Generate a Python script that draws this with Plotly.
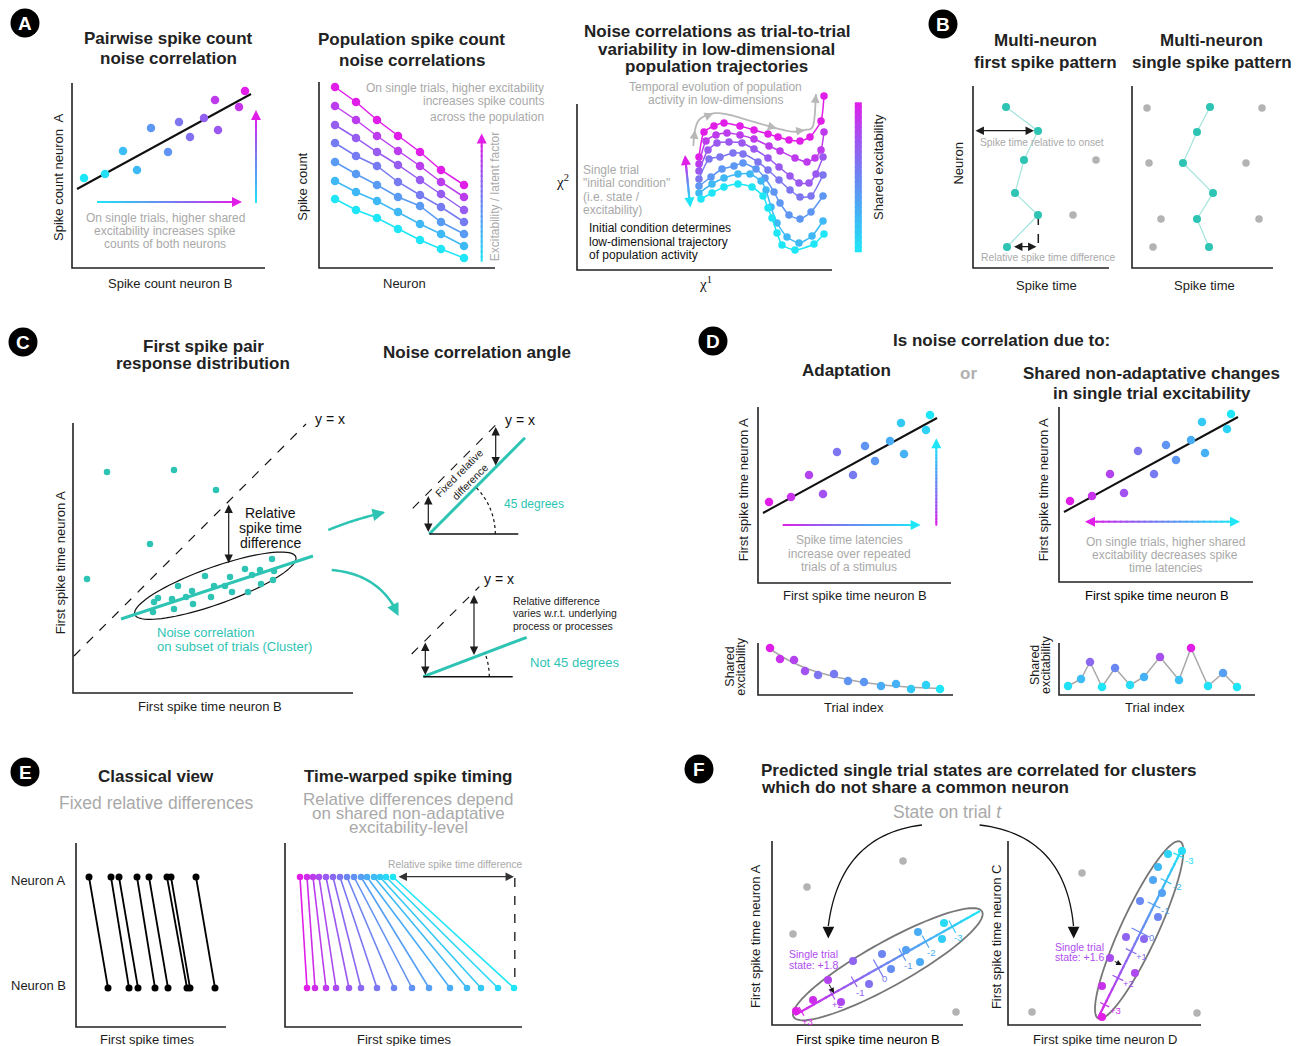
import math
import plotly.graph_objects as go

W, H = 1308, 1046
FONT = "Liberation Sans, Arial, Helvetica, sans-serif"
SERIF = "Liberation Serif, Times New Roman, serif"
INK = "#1c1c1c"
NOTE = "#a9a9a9"
TEAL = "#2ec4b4"
TEAL_LIGHT = "#a3e4dd"
GRAY_DOT = "#b3b3b3"
PURPLE_NOTE = "#b04cf0"
EXC_SCALE = [[0.0, "#1ee6f6"], [0.25, "#44b3f5"], [0.5, "#6d85f1"], [0.75, "#a152f0"], [1.0, "#e11de8"]]

# ---------------- A: pairwise spike count noise correlation ----------------
pair_count_b = [1.2, 3.3, 5.1, 6.5, 7.9, 9.6, 10.7, 11.8, 13.2, 14.6, 14.3, 16.7, 17.3]
pair_count_a = [9.0, 9.4, 11.7, 9.8, 14.0, 11.6, 14.6, 13.1, 15.0, 13.8, 16.8, 16.1, 17.7]
pair_excitability = [0.0, 0.04, 0.2, 0.22, 0.4, 0.42, 0.58, 0.6, 0.68, 0.72, 0.86, 0.9, 1.0]
pair_fit_b = [0.5, 17.9]
pair_fit_a = [7.9, 17.4]

# ---------------- A: population spike counts (rows: high -> low excitability) ----------------
pop_neuron = [1.6, 3.7, 5.8, 7.9, 10.1, 12.2, 14.5]
pop_levels = [1.0, 0.85, 0.7, 0.55, 0.38, 0.22, 0.0]
pop_counts = [
    [18.1, 16.6, 14.8, 13.2, 11.6, 9.8, 8.3],
    [16.2, 14.8, 13.2, 11.7, 10.2, 8.6, 7.1],
    [14.3, 13.0, 11.6, 10.3, 8.8, 7.4, 5.8],
    [12.5, 11.2, 10.2, 8.6, 7.3, 6.1, 4.6],
    [10.6, 9.4, 8.3, 7.1, 6.2, 4.6, 3.4],
    [8.7, 7.6, 6.7, 5.6, 4.4, 3.4, 2.2],
    [6.9, 5.8, 5.0, 3.9, 2.8, 1.9, 1.0],
]

# ---------------- A: low-dimensional population trajectories ----------------
traj_levels = [1.0, 0.86, 0.72, 0.58, 0.4, 0.22, 0.0]
traj_chi1 = [
    [12.2, 12.7, 13.7, 14.7, 16.3, 17.7, 19.1, 20.1, 21.2, 22.3, 23.3, 24.4, 24.7],
    [12.2, 12.9, 13.9, 15.0, 16.3, 17.7, 19.2, 20.3, 21.8, 23.0, 23.8, 24.4, 24.7],
    [12.2, 13.1, 14.0, 15.2, 16.5, 17.7, 19.1, 20.2, 21.3, 22.2, 23.2, 23.9, 24.6],
    [12.2, 13.2, 14.3, 15.6, 16.6, 18.1, 19.1, 20.2, 21.3, 22.3, 23.4, 24.6],
    [12.2, 13.4, 14.5, 15.7, 16.6, 17.9, 18.8, 19.7, 20.3, 21.2, 22.3, 23.4, 24.6],
    [12.2, 13.5, 14.7, 16.1, 17.3, 18.4, 18.9, 19.4, 20.0, 21.0, 22.2, 23.5, 24.6],
    [12.4, 13.5, 14.7, 16.1, 17.5, 18.6, 19.1, 19.5, 20.0, 20.5, 21.8, 23.7, 24.7],
]
traj_chi2 = [
    [11.3, 13.8, 14.4, 14.7, 14.4, 14.0, 13.6, 13.3, 13.0, 12.9, 13.3, 14.9, 17.4],
    [10.6, 12.9, 13.5, 13.7, 13.5, 13.1, 12.4, 11.9, 11.2, 10.8, 11.2, 12.0, 13.8],
    [9.9, 12.0, 12.7, 12.8, 12.7, 12.1, 11.2, 10.3, 9.4, 8.7, 8.7, 9.6, 11.3],
    [9.1, 11.1, 11.3, 11.7, 11.6, 10.8, 10.0, 9.0, 8.0, 7.3, 7.4, 9.5],
    [8.4, 9.3, 10.1, 10.4, 10.7, 10.1, 9.2, 7.8, 6.7, 5.5, 5.1, 5.8, 7.4],
    [7.7, 8.6, 9.2, 9.6, 9.6, 8.9, 8.0, 6.3, 4.7, 3.3, 2.7, 3.4, 4.9],
    [7.1, 7.7, 8.3, 8.6, 8.3, 7.4, 6.2, 5.2, 3.7, 2.5, 2.0, 2.6, 3.6],
]

# ---------------- B: multi-neuron spike patterns ----------------
first_spike_time = [3.3, 6.5, 5.1, 4.2, 6.5, 3.4]
first_spike_neuron = [16.1, 13.7, 10.8, 7.5, 5.3, 2.1]
first_later_time = [12.3, 10.0]
first_later_neuron = [10.8, 5.3]
single_spike_time = [7.8, 6.5, 5.1, 8.1, 6.5, 7.7]
single_spike_neuron = [16.1, 13.6, 10.5, 7.5, 4.9, 2.1]
single_other_time = [1.5, 13.0, 1.7, 11.4, 2.9, 12.7, 2.1]
single_other_neuron = [16.0, 16.0, 10.5, 10.5, 4.9, 4.9, 2.1]

# ---------------- C: first spike pair response distribution ----------------
cluster_b = [8.1, 8.5, 8.0, 9.9, 10.1, 10.5, 11.3, 11.9, 12.0, 13.2, 13.8, 14.1, 15.2, 15.7, 15.9,
             17.2, 17.5, 17.9, 18.7, 18.8, 19.9, 20.1, 20.0]
cluster_a = [9.1, 9.5, 8.1, 9.4, 8.4, 10.7, 9.6, 10.2, 8.9, 11.7, 9.6, 10.7, 10.7, 11.6, 10.1,
             12.4, 10.1, 11.8, 12.3, 10.9, 13.4, 12.2, 11.3]
outlier_b = [3.4, 10.1, 14.3, 7.7, 1.4]
outlier_a = [22.1, 22.3, 20.3, 14.9, 11.4]
cluster_fit_b = [4.8, 24.0]
cluster_fit_a = [7.4, 13.7]
identity_b = [0.1, 23.3]
identity_a = [3.7, 26.9]

# ---------------- D: adaptation vs shared excitability ----------------
latency_b = [1.1, 3.3, 5.1, 6.5, 7.9, 9.5, 10.7, 11.7, 13.2, 14.6, 14.3, 16.8, 17.2]
latency_a = [8.1, 8.6, 10.8, 8.9, 13.1, 10.8, 13.7, 12.2, 14.2, 12.9, 16.0, 15.3, 16.8]
latency_state = [1.0, 0.9, 0.82, 0.75, 0.58, 0.55, 0.42, 0.4, 0.28, 0.26, 0.14, 0.1, 0.0]
latency_fit_b = [0.5, 17.9]
latency_fit_a = [7.0, 16.5]
adapt_trial = [1.2, 2.2, 3.6, 4.7, 6.0, 7.6, 9.0, 10.6, 12.3, 13.8, 15.3, 16.8, 18.2]
adapt_excitability = [4.7, 3.6, 3.5, 2.4, 2.0, 2.1, 1.4, 1.3, 0.9, 1.1, 0.6, 1.0, 0.6]
adapt_trend_trial = [1.2, 3.0, 5.0, 7.0, 9.0, 11.0, 13.0, 15.0, 17.0, 18.5]
adapt_trend_excitability = [4.6, 3.5, 2.6, 2.0, 1.55, 1.2, 0.95, 0.8, 0.7, 0.65]
shared_trial = [0.9, 2.2, 3.1, 4.3, 5.6, 7.1, 8.5, 10.1, 12.0, 13.2, 14.9, 16.4, 17.8]
shared_excitability = [0.9, 1.6, 3.3, 0.8, 2.7, 1.0, 1.8, 3.8, 1.5, 4.7, 0.9, 2.2, 0.8]

# ---------------- E: spike timing views ----------------
classic_time_a = [1.3, 3.5, 4.3, 6.1, 7.3, 9.1, 9.5, 12.0]
classic_time_b = [3.2, 5.3, 6.2, 7.9, 9.2, 11.1, 11.4, 13.9]
warped_time_a = [1.5, 2.2, 2.8, 3.4, 4.1, 4.8, 5.5, 6.2, 6.9, 7.6, 8.2, 8.9, 9.5, 10.1, 10.8]
warped_time_b = [2.2, 3.0, 4.1, 5.1, 6.4, 7.6, 9.2, 10.9, 12.7, 14.4, 16.5, 18.2, 19.6, 21.3, 22.9]
row_neuron_a = 15.0
row_neuron_b = 3.9

# ---------------- F: predicted single trial states ----------------
fab_b = [2.4, 4.1, 6.9, 5.6, 8.1, 9.7, 11.0, 11.9, 13.4, 14.8, 14.6, 17.0, 17.2]
fab_a = [1.4, 2.5, 2.3, 4.5, 6.4, 4.1, 7.1, 5.6, 7.5, 6.3, 9.3, 8.6, 10.2]
fab_state = [1.0, 0.92, 0.8, 0.82, 0.66, 0.6, 0.5, 0.45, 0.35, 0.3, 0.28, 0.12, 0.06]
fab_other_b = [3.5, 13.1, 2.1, 18.4]
fab_other_a = [13.8, 16.4, 9.1, 1.3]
fab_fit_b = [2.3, 20.8]
fab_fit_a = [1.0, 11.4]
fab_tick_labels = ["+3", "+2", "-1", "0", "-1", "-2", "-3"]
fcd_d = [9.4, 9.4, 12.7, 10.2, 11.8, 13.6, 15.0, 13.2, 15.4, 14.5, 15.0, 16.0, 17.4]
fcd_c = [0.8, 3.9, 5.2, 6.7, 8.8, 8.6, 10.8, 12.4, 13.2, 14.5, 15.8, 17.1, 17.4]
fcd_state = [1.0, 0.9, 0.8, 0.78, 0.66, 0.64, 0.5, 0.48, 0.34, 0.32, 0.22, 0.1, 0.05]
fcd_other_d = [7.4, 2.4, 18.9]
fcd_other_c = [15.2, 1.3, 1.2]
fcd_fit_d = [9.0, 17.5]
fcd_fit_c = [0.7, 17.8]
fcd_tick_labels = ["+3", "+2", "+1", "0", "-1", "-2", "-3"]

# =====================================================================
fig = go.Figure()
shapes, annots = [], []
n_axes = [0]


def _rgb(h):
    return tuple(int(h[i:i + 2], 16) for i in (1, 3, 5))


def mix(t):
    t = min(max(t, 0.0), 1.0)
    for (t0, c0), (t1, c1) in zip(EXC_SCALE[:-1], EXC_SCALE[1:]):
        if t <= t1:
            f = (t - t0) / (t1 - t0)
            a, b = _rgb(c0), _rgb(c1)
            return "rgb(%d,%d,%d)" % tuple(round(a[k] + (b[k] - a[k]) * f) for k in range(3))
    return EXC_SCALE[-1][1]


def text(x, y, s, size=13, color=INK, bold=False, anchor="center", angle=0, family=FONT):
    annots.append(dict(x=x / W, y=1 - y / H, xref="paper", yref="paper",
                       text=f"<b>{s}</b>" if bold else s, showarrow=False,
                       xanchor=anchor, yanchor="middle", textangle=angle,
                       font=dict(family=family, size=size, color=color)))


def seg(x0, y0, x1, y1, color=INK, width=1.5, dash="solid"):
    shapes.append(dict(type="line", xref="paper", yref="paper",
                       x0=x0 / W, y0=1 - y0 / H, x1=x1 / W, y1=1 - y1 / H,
                       line=dict(color=color, width=width, dash=dash), layer="below"))


def poly(pts, color=INK, width=1.5, dash="solid", closed=False):
    d = "M " + " L ".join(f"{x / W:.5f},{1 - y / H:.5f}" for x, y in pts)
    if closed:
        d += " Z"
    shapes.append(dict(type="path", xref="paper", yref="paper", path=d,
                       line=dict(color=color, width=width, dash=dash), layer="below"))


def arrow(x0, y0, x1, y1, color=INK, width=1.2, size=1.4, both=False):
    annots.append(dict(x=x1 / W, y=1 - y1 / H, xref="paper", yref="paper",
                       ax=x0 - x1, ay=y0 - y1, axref="pixel", ayref="pixel", text="",
                       showarrow=True, arrowhead=2, startarrowhead=2,
                       arrowsize=size, startarrowsize=size, arrowwidth=width,
                       arrowcolor=color, arrowside="end+start" if both else "end"))


def tip(x, y, fx, fy, color, width=2, size=1.0, back=7):
    d = math.hypot(fx - x, fy - y)
    arrow(x + (fx - x) * back / d, y + (fy - y) * back / d, x, y, color=color, width=width, size=size)


def grad(x0, y0, x1, y1, t0, t1, width=2, n=24):
    # short overlapping pieces so that no seams show between colour steps
    L = math.hypot(x1 - x0, y1 - y0)
    ext = 0.8 / L
    for i in range(n):
        a, b = i / n, (i + 1) / n
        a2, b2 = max(a - ext, 0), min(b + ext, 1)
        seg(x0 + (x1 - x0) * a2, y0 + (y1 - y0) * a2, x0 + (x1 - x0) * b2, y0 + (y1 - y0) * b2,
            color=mix(t0 + (t1 - t0) * (a + b) / 2), width=width)


def qcurve(p0, c, p1, n=30):
    return [((1 - t) ** 2 * p0[0] + 2 * (1 - t) * t * c[0] + t * t * p1[0],
             (1 - t) ** 2 * p0[1] + 2 * (1 - t) * t * c[1] + t * t * p1[1])
            for t in [i / n for i in range(n + 1)]]


def catmull(pts, k=10):
    P = [pts[0]] + list(pts) + [pts[-1]]
    out = []
    for i in range(1, len(P) - 2):
        p0, p1, p2, p3 = P[i - 1], P[i], P[i + 1], P[i + 2]
        for j in range(k):
            t = j / k
            out.append(tuple(0.5 * (2 * p1[m] + (-p0[m] + p2[m]) * t
                                    + (2 * p0[m] - 5 * p1[m] + 4 * p2[m] - p3[m]) * t * t
                                    + (-p0[m] + 3 * p1[m] - 3 * p2[m] + p3[m]) * t ** 3) for m in (0, 1)))
    out.append(pts[-1])
    return out


def ellipse(cx, cy, a, b, ang, n=90):
    ph = math.radians(ang)
    pts = []
    for i in range(n):
        t = 2 * math.pi * i / n
        pts.append((cx + a * math.cos(t) * math.cos(ph) - b * math.sin(t) * math.sin(ph),
                    cy - (a * math.cos(t) * math.sin(ph) + b * math.sin(t) * math.cos(ph))))
    return pts


def badge(cx, cy, letter):
    shapes.append(dict(type="circle", xref="paper", yref="paper",
                       x0=(cx - 14.5) / W, x1=(cx + 14.5) / W, y0=1 - (cy + 14.5) / H, y1=1 - (cy - 14.5) / H,
                       fillcolor="#000000", line=dict(width=0), layer="above"))
    text(cx, cy + 0.5, letter, size=19, color="#ffffff", bold=True)


def axes(ox, oy, top, right, pad=30):
    """Subplot whose data unit is 10 px; (ox, oy) is the origin, drawn as an L-shaped frame."""
    n_axes[0] += 1
    k = n_axes[0]
    sfx = "" if k == 1 else str(k)
    L, R = max(ox - pad, 0), min(right + pad, W)
    T, B = max(top - pad, 0), min(oy + pad, H)
    fig.update_layout({
        "xaxis" + sfx: dict(domain=[L / W, R / W], range=[(L - ox) / 10, (R - ox) / 10],
                            visible=False, anchor="y" + sfx, fixedrange=True),
        "yaxis" + sfx: dict(domain=[1 - B / H, 1 - T / H], range=[(oy - B) / 10, (oy - T) / 10],
                            visible=False, anchor="x" + sfx, fixedrange=True),
    })
    poly([(ox, top), (ox, oy), (right, oy)], color="#222222", width=1.6)
    return ("x" + sfx, "y" + sfx, ox, oy)


def scatter(ax, x, y, mode="markers", **kw):
    fig.add_trace(go.Scatter(x=x, y=y, xaxis=ax[0], yaxis=ax[1], mode=mode, hoverinfo="skip",
                             showlegend=False, cliponaxis=False, **kw))


def grad_data(ax, xs, ys, t0, t1, width=2.2, n=30):
    for i in range(n):
        a, b = i / n, (i + 1) / n
        a2, b2 = max(a - 0.004, 0), min(b + 0.004, 1)
        shapes.append(dict(type="line", xref=ax[0], yref=ax[1],
                           x0=xs[0] + (xs[1] - xs[0]) * a2, y0=ys[0] + (ys[1] - ys[0]) * a2,
                           x1=xs[0] + (xs[1] - xs[0]) * b2, y1=ys[0] + (ys[1] - ys[0]) * b2,
                           line=dict(color=mix(t0 + (t1 - t0) * (a + b) / 2), width=width), layer="below"))


def to_px(ax, x, y):
    return ax[2] + 10 * x, ax[3] - 10 * y


def exc_marker(vals, size=8, cmin=0, cmax=1):
    return dict(size=size, color=vals, colorscale=EXC_SCALE, cmin=cmin, cmax=cmax, line=dict(width=0))


# ======================= Panel A =======================
badge(25, 23, "A")

# pairwise spike count
ax = axes(72, 268, 83, 265)
scatter(ax, pair_fit_b, pair_fit_a, mode="lines", line=dict(color="#111111", width=2))
scatter(ax, pair_count_b, pair_count_a, marker=exc_marker(pair_excitability, 8.5))
text(168, 38, "Pairwise spike count", 17, "#222", bold=True)
text(168, 59, "noise correlation", 17, "#222", bold=True)
grad(97, 202, 236, 202, 0, 1, width=2)
tip(242, 202, 97, 202, mix(1))
grad(256, 203, 256, 117, 0, 1, width=2)
tip(256, 110, 256, 203, mix(1))
for yy, s in zip([218, 231, 244], ["On single trials, higher shared", "excitability increases spike",
                                   "counts of both neurons"]):
    text(165, yy, s, 12, NOTE)
text(58, 177, "Spike count neuron  A", 13, angle=-90)
text(170, 283, "Spike count neuron B", 13)

# population spike count
ax = axes(319, 268, 82, 495)
for lvl, row in zip(pop_levels, pop_counts):
    scatter(ax, pop_neuron, row, mode="lines+markers", line=dict(color=mix(lvl), width=1.5),
            marker=dict(size=8.5, color=mix(lvl)))
text(411.7, 40, "Population spike count", 17, "#222", bold=True)
text(411.7, 60, "noise correlations", 17, "#222", bold=True)
for yy, s in zip([88, 101, 117], ["On single trials, higher excitability", "increases spike counts",
                                  "across the population"]):
    text(546, yy, s, 12, NOTE, anchor="right")
grad(481.7, 261.7, 481.7, 141, 0, 1, width=2)
tip(481.7, 133.5, 481.7, 261.7, mix(1))
text(494.5, 196.7, "Excitability / latent factor", 12, NOTE, angle=-90)
text(303, 186.7, "Spike count", 13, angle=-90)
text(405, 283.3, "Neuron", 13)

# population trajectories
ax = axes(577, 270, 104, 832, pad=32)
for lvl, xs, ys in zip(traj_levels, traj_chi1, traj_chi2):
    scatter(ax, xs, ys, mode="lines+markers", line=dict(color=mix(lvl), width=1.5, shape="spline", smoothing=0.6),
            marker=dict(size=7.5, color=mix(lvl)))
for yy, s in zip([31.7, 49, 66.7], ["Noise correlations as trial-to-trial", "variability in low-dimensional",
                                    "population trajectories"]):
    text(716.7, yy, s, 17, "#222", bold=True)
text(715, 86.7, "Temporal evolution of population", 12, NOTE)
text(715, 100, "activity in low-dimensions", 12, NOTE)
# gray direction-of-time guide with arrowheads
guide = [(693.3, 146), (695, 130), (700, 119), (713.3, 113.3), (730, 115), (753.3, 121.7), (776.7, 128.3),
         (793.3, 131.7), (805, 130), (813.3, 125), (816, 94)]
poly(catmull(guide), color="#b8b8b8", width=1.8)
for i in (1, 3, 6, 8, 10):
    tip(guide[i][0], guide[i][1], guide[i - 1][0], guide[i - 1][1], "#b8b8b8", width=1.6, size=1.1)
grad(689.6, 201, 685.6, 161, 0, 1, width=2)
tip(685, 155, 690, 207, mix(1))
tip(690.4, 207.5, 685, 155, mix(0))
for yy, s in zip([170, 183.3, 196.7, 209.5], ["Single trial", '"initial condition"', "(i.e. state /",
                                              "excitability)"]):
    text(580.7, yy, s, 12, NOTE, anchor="left")
for yy, s in zip([228.3, 241.7, 255], ["Initial condition determines", "low-dimensional trajectory",
                                      "of population activity"]):
    text(587.3, yy, s, 12, "#111", anchor="left")
text(562.7, 181, "χ<sup>2</sup>", 15, "#111", family=SERIF)
text(705, 283.3, "χ<sup>1</sup>", 15, "#111", family=SERIF)
grad(858.3, 102.3, 858.3, 252.3, 1, 0, width=7, n=30)
text(878.3, 166.7, "Shared excitability", 13, angle=-90)

# ======================= Panel B =======================
badge(943, 24, "B")
ax = axes(973, 268, 86, 1109)
scatter(ax, first_spike_time, first_spike_neuron, mode="lines", line=dict(color=TEAL_LIGHT, width=1.2))
scatter(ax, first_later_time, first_later_neuron, marker=dict(size=7.5, color=GRAY_DOT))
scatter(ax, first_spike_time, first_spike_neuron, marker=dict(size=8, color=TEAL))
arrow(974, 130.7, 1034, 130.7, color=INK, width=1.3, size=1.3, both=True)
seg(1038.3, 216, 1038.3, 246.7, color=INK, width=1.5, dash="dash")
arrow(1012.5, 246.7, 1036.5, 246.7, color=INK, width=1.3, size=1.3, both=True)
text(978, 142.7, "Spike time relative to onset", 10.3, NOTE, anchor="left")
text(979, 257.5, "Relative spike time difference", 10.3, NOTE, anchor="left")
text(1045.7, 41, "Multi-neuron", 17, "#222", bold=True)
text(1045.7, 62.3, "first spike pattern", 17, "#222", bold=True)
text(958.3, 163.3, "Neuron", 13, angle=-90)
text(1046.7, 285, "Spike time", 13)

ax = axes(1132, 268, 86, 1273)
scatter(ax, single_spike_time, single_spike_neuron, mode="lines", line=dict(color=TEAL_LIGHT, width=1.2))
scatter(ax, single_other_time, single_other_neuron, marker=dict(size=7.5, color=GRAY_DOT))
scatter(ax, single_spike_time, single_spike_neuron, marker=dict(size=8, color=TEAL))
text(1211.7, 41, "Multi-neuron", 17, "#222", bold=True)
text(1211.7, 62.3, "single spike pattern", 17, "#222", bold=True)
text(1204, 285, "Spike time", 13)

# ======================= Panel C =======================
badge(23, 342, "C")
ax = axes(73, 693, 423, 353)
scatter(ax, identity_b, identity_a, mode="lines", line=dict(color="#111111", width=1.2, dash="dash"))
scatter(ax, cluster_fit_b, cluster_fit_a, mode="lines", line=dict(color=TEAL, width=3))
scatter(ax, outlier_b, outlier_a, marker=dict(size=6.5, color=TEAL))
scatter(ax, cluster_b, cluster_a, marker=dict(size=6.5, color=TEAL))
poly(ellipse(215.3, 585.7, 85.5, 18.5, 19.7), color="#111111", width=1.2, closed=True)
arrow(228.7, 503, 228.7, 563, color=INK, width=1.2, size=1.4, both=True)
text(203.3, 346.7, "First spike pair", 17, "#222", bold=True)
text(203.3, 363.3, "response distribution", 17, "#222", bold=True)
text(330, 419, "y = x", 14, "#111")
for yy, s in zip([513.3, 528, 542.7], ["Relative", "spike time", "difference"]):
    text(270, yy, s, 14, "#111")
text(155.3, 632.3, "Noise correlation", 13, TEAL, anchor="left")
text(155.3, 646.7, "on subset of trials (Cluster)", 13, TEAL, anchor="left")
text(60, 563.3, "First spike time neuron A", 13, angle=-90)
text(210, 706.7, "First spike time neuron B", 13)

# angle schematics
text(477, 352, "Noise correlation angle", 17, "#222", bold=True)
up = qcurve((328.3, 530), (352, 520), (383.5, 512.5))
poly(up, color=TEAL, width=2.5)
tip(385, 512.2, 370, 515.5, TEAL, width=2.5, size=1.0, back=8)
dn = qcurve((331.7, 570), (378, 574), (397, 612))
poly(dn, color=TEAL, width=2.5)
tip(398.5, 616, 391, 601, TEAL, width=2.5, size=1.0, back=8)

seg(412.7, 508.3, 500, 420.7, color="#111", width=1.1, dash="dash")
seg(429.3, 534, 525, 437.7, color=TEAL, width=3)
seg(429.3, 534, 518.3, 534, color="#111", width=1.6)
poly([(429.3 + 66 * math.cos(math.radians(a)), 534 - 66 * math.sin(math.radians(a))) for a in range(0, 46, 3)],
     color="#111", width=1.2, dash="dot")
arrow(428.3, 494.5, 428.3, 532, color=INK, width=1.2, size=1.4, both=True)
arrow(495.7, 425.5, 495.7, 465.5, color=INK, width=1.2, size=1.4, both=True)
text(459, 473.3, "Fixed relative", 10.5, "#222", angle=-45)
text(469.5, 482, "difference", 10.5, "#222", angle=-45)
text(520.3, 420, "y = x", 14, "#111")
text(501.7, 504.3, "45 degrees", 12, TEAL, anchor="left")

seg(411.7, 654, 479.3, 586.7, color="#111", width=1.1, dash="dash")
seg(423.3, 676.7, 526.7, 637.3, color=TEAL, width=3)
seg(423.3, 676.7, 512.7, 676.7, color="#111", width=1.6)
poly([(423.3 + 66 * math.cos(math.radians(a)), 676.7 - 66 * math.sin(math.radians(a))) for a in range(0, 22, 3)],
     color="#111", width=1.2, dash="dot")
arrow(425.3, 641, 425.3, 675, color=INK, width=1.2, size=1.4, both=True)
arrow(474, 593.5, 474, 655, color=INK, width=1.2, size=1.4, both=True)
text(499.2, 578.5, "y = x", 14, "#111")
for yy, s in zip([600.7, 613.3, 625.7], ["Relative difference", "varies w.r.t. underlying",
                                        "process or processes"]):
    text(511, yy, s, 10.5, "#222", anchor="left")
text(528.3, 662.7, "Not 45 degrees", 13, TEAL, anchor="left")

# ======================= Panel D =======================
badge(713, 341, "D")
text(1001, 340, "Is noise correlation due to:", 17, "#222", bold=True)
text(846.7, 370.7, "Adaptation", 17, "#222", bold=True)
text(968.3, 373.3, "or", 17, "#b0b0b0", bold=True)
text(1151.7, 373.3, "Shared non-adaptative changes", 17, "#222", bold=True)
text(1151.7, 393.3, "in single trial excitability", 17, "#222", bold=True)

ax = axes(758, 583, 407, 951)
scatter(ax, latency_fit_b, latency_fit_a, mode="lines", line=dict(color="#111111", width=2))
scatter(ax, latency_b, latency_a, marker=exc_marker(latency_state, 8.5))
grad(782.7, 525, 914, 525, 1, 0, width=2)
tip(920.7, 525, 782.7, 525, mix(0))
grad(936.3, 525.7, 936.3, 445, 1, 0, width=2)
tip(936.3, 438.3, 936.3, 525.7, mix(0))
for yy, s in zip([540, 554, 567.3], ["Spike time latencies", "increase over repeated", "trials of a stimulus"]):
    text(849.3, yy, s, 12, NOTE)
text(743.3, 490, "First spike time neuron A", 13, angle=-90)
text(855, 595, "First spike time neuron B", 13)

ax = axes(758, 695, 643, 953, pad=15)
scatter(ax, adapt_trend_trial, adapt_trend_excitability, mode="lines",
        line=dict(color="#a9a9a9", width=1.5, shape="spline"))
scatter(ax, adapt_trial, adapt_excitability, marker=exc_marker(latency_state, 8.5))
text(730, 666.7, "Shared", 12.5, angle=-90)
text(741, 666.7, "excitability", 12.5, angle=-90)
text(854.3, 707.7, "Trial index", 13)

ax = axes(1059, 582, 407, 1253)
scatter(ax, latency_fit_b, latency_fit_a, mode="lines", line=dict(color="#111111", width=2))
scatter(ax, latency_b, latency_a, marker=exc_marker(latency_state, 8.5))
grad(1091, 521.7, 1234, 521.7, 1, 0, width=2)
tip(1085, 521.7, 1240, 521.7, mix(1))
tip(1240, 521.7, 1085, 521.7, mix(0))
for yy, s in zip([541.7, 555, 568.3], ["On single trials, higher shared", "excitability decreases spike",
                                      "time latencies"]):
    text(1165, yy, s, 12, NOTE)
text(1043.3, 490, "First spike time neuron A", 13, angle=-90)
text(1156.7, 595, "First spike time neuron B", 13, "#000")

ax = axes(1059, 695, 643, 1255, pad=15)
scatter(ax, shared_trial, shared_excitability, mode="lines", line=dict(color="#a9a9a9", width=1.5))
scatter(ax, shared_trial, shared_excitability, marker=exc_marker(shared_excitability, 8.5, 0.8, 4.7))
text(1035, 665, "Shared", 12.5, angle=-90)
text(1046, 665, "excitability", 12.5, angle=-90)
text(1155, 707.7, "Trial index", 13)

# ======================= Panel E =======================
badge(25, 772, "E")
ax = axes(76, 1027, 843, 226)
ex, ey = [], []
for ta, tb in zip(classic_time_a, classic_time_b):
    ex += [ta, tb, None]
    ey += [row_neuron_a, row_neuron_b, None]
scatter(ax, ex, ey, mode="lines+markers", line=dict(color="#000000", width=1.8),
        marker=dict(size=7, color="#000000"))
text(156.3, 776.7, "Classical view", 17, "#222", bold=True)
text(156.3, 803.3, "Fixed relative differences", 17.5, NOTE)
text(8.6, 880.7, "Neuron A", 13, anchor="left")
text(8.6, 985.7, "Neuron B", 13, anchor="left")
text(147.4, 1039.3, "First spike times", 13)

ax = axes(285, 1027, 843, 522)
npair = len(warped_time_a)
for i, (ta, tb) in enumerate(zip(warped_time_a, warped_time_b)):
    c = mix(1 - i / (npair - 1))
    scatter(ax, [ta, tb], [row_neuron_a, row_neuron_b], mode="lines+markers",
            line=dict(color=c, width=1.6), marker=dict(size=6.5, color=c))
arrow(397, 876.7, 514, 876.7, color="#333333", width=1.3, size=1.3, both=True)
seg(514.8, 878, 514.8, 985, color="#333333", width=1.5, dash="dash")
text(455.2, 864.3, "Relative spike time difference", 10.3, NOTE)
text(408.4, 776.7, "Time-warped spike timing", 17, "#222", bold=True)
for yy, s in zip([799.5, 813.3, 827], ["Relative differences depend", "on shared non-adaptative",
                                      "excitability-level"]):
    text(408.4, yy, s, 17, NOTE)
text(403.6, 1039.3, "First spike times", 13)

# ======================= Panel F =======================
badge(699, 769, "F")
text(759.3, 770.7, "Predicted single trial states are correlated for clusters", 17, "#222",
     bold=True, anchor="left")
text(759.3, 787.3, "which do not share a common neuron", 17, "#222", bold=True, anchor="left")
text(947.5, 811.7, "State on trial <i>t</i>", 17.5, NOTE)


def state_axis(ax, fx, fy, fracs, halves, labels, label_off):
    x0, y0 = to_px(ax, fx[0], fy[0])
    x1, y1 = to_px(ax, fx[1], fy[1])
    L = math.hypot(x1 - x0, y1 - y0)
    ux, uy = (x1 - x0) / L, (y1 - y0) / L
    nx, ny = -uy, ux
    if ny < 0:
        nx, ny = -nx, -ny
    for f, h, lab in zip(fracs, halves, labels):
        cx, cy = x0 + (x1 - x0) * f, y0 + (y1 - y0) * f
        c = mix(1 - f)
        seg(cx - nx * h, cy - ny * h, cx + nx * h, cy + ny * h, color=c, width=1.2)
        text(cx + nx * label_off, cy + ny * label_off, lab, 9.5, c)


ax = axes(772, 1025, 841, 963)
grad_data(ax, fab_fit_b, fab_fit_a, 1, 0)
poly(ellipse(887.8, 964.2, 108, 22, 29.2), color="#777777", width=1.8, closed=True)
scatter(ax, fab_other_b, fab_other_a, marker=dict(size=7.5, color=GRAY_DOT))
scatter(ax, fab_b, fab_a, marker=exc_marker(fab_state, 8))
state_axis(ax, fab_fit_b, fab_fit_a, [0.035, 0.2, 0.32, 0.45, 0.58, 0.706, 0.85],
           [5, 6, 6, 10, 7, 7, 7], fab_tick_labels, 12)
arrow(828.3, 983, 834, 993.3, color="#111", width=1, size=1.1)
text(786.7, 954.3, "Single trial", 10.5, PURPLE_NOTE, anchor="left")
text(786.7, 965, "state: +1.8", 10.5, PURPLE_NOTE, anchor="left")
poly(qcurve((922, 825), (840, 835), (828.3, 926)), color="#111", width=1.3)
tip(828.3, 938.5, 828.5, 920, "#111", width=1.3, size=1.8, back=10)
text(755.3, 936.7, "First spike time neuron A", 13, angle=-90)
text(868.2, 1039.3, "First spike time neuron B", 13, "#000")

ax = axes(1008, 1025, 841, 1201)
grad_data(ax, fcd_fit_d, fcd_fit_c, 1, 0)
poly(ellipse(1139.2, 930, 97.5, 18.5, 65.2), color="#777777", width=1.8, closed=True)
scatter(ax, fcd_other_d, fcd_other_c, marker=dict(size=7.5, color=GRAY_DOT))
scatter(ax, fcd_d, fcd_c, marker=exc_marker(fcd_state, 8))
state_axis(ax, fcd_fit_d, fcd_fit_c, [0.078, 0.234, 0.39, 0.5, 0.66, 0.8, 0.95],
           [5, 6, 6, 10, 7, 6, 6], fcd_tick_labels, 12)
arrow(1113.3, 960.7, 1121.7, 965, color="#111", width=1, size=1.1)
text(1052.7, 946.7, "Single trial", 10.5, PURPLE_NOTE, anchor="left")
text(1052.7, 957.3, "state: +1.6", 10.5, PURPLE_NOTE, anchor="left")
poly(qcurve((979.6, 825), (1065, 835), (1073.5, 926)), color="#111", width=1.3)
tip(1073.7, 938.5, 1073.5, 920, "#111", width=1.3, size=1.8, back=10)
text(996.4, 936.7, "First spike time neuron C", 13, angle=-90)
text(1105.3, 1039.3, "First spike time neuron D", 13)

fig.update_layout(
    width=W, height=H, margin=dict(l=0, r=0, t=0, b=0),
    paper_bgcolor="#ffffff", plot_bgcolor="rgba(0,0,0,0)",
    showlegend=False, shapes=shapes, annotations=annots,
    font=dict(family=FONT, color=INK),
)
fig.write_html("out.html")
